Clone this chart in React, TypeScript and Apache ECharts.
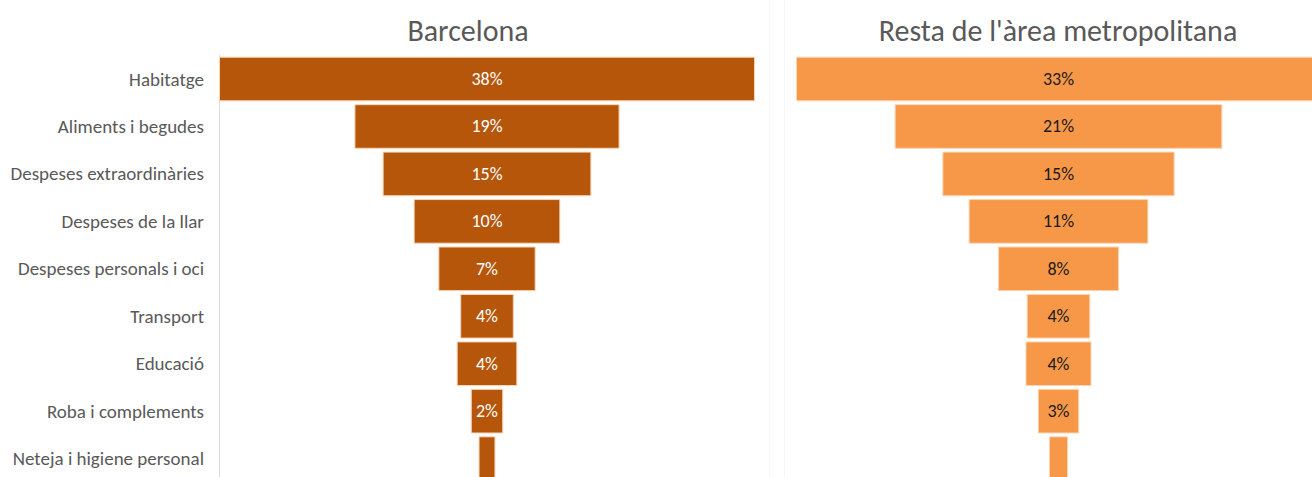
import React, { useEffect, useRef } from "react";
import * as echarts from "echarts";

const categories = [
  "Habitatge",
  "Aliments i begudes",
  "Despeses extraordinàries",
  "Despeses de la llar",
  "Despeses personals i oci",
  "Transport",
  "Educació",
  "Roba i complements",
  "Neteja i higiene personal",
];
const barcelonaValues = [38, 18.8, 14.8, 10.4, 6.9, 3.8, 4.3, 2.3, 1.2];
const restaValues = [33, 20.6, 14.6, 11.3, 7.6, 4.0, 4.15, 2.6, 1.2];
const titles = ["Barcelona", "Resta de l'àrea metropolitana"];

const FONT = "Carlito, Calibri, Lato, 'Noto Sans', sans-serif";

export default function App() {
  const ref = useRef<HTMLDivElement>(null);
  useEffect(() => {
    if (!ref.current) return;
    const chart = echarts.init(ref.current, null, { renderer: "svg" });
    const maxL = Math.max(...barcelonaValues);
    const maxR = Math.max(...restaValues);
    const rowH = 47.45;
    const gridTop = 55.3;
    const gridH = rowH * categories.length;
    const fmt = (p: any) => (p.value >= 1.5 ? Math.round(p.value) + "%" : "");
    const mkSeries = (vals: number[], max: number, idx: number, color: string, labelColor: string) => [
      {
        type: "bar",
        xAxisIndex: idx,
        yAxisIndex: idx,
        stack: "s" + idx,
        data: vals.map((v) => (max - v) / 2),
        itemStyle: { color: "transparent" },
        barCategoryGap: "6%",
        silent: true,
      },
      {
        type: "bar",
        xAxisIndex: idx,
        yAxisIndex: idx,
        stack: "s" + idx,
        data: vals,
        barCategoryGap: "6%",
        itemStyle: { color, borderColor: "#FBD5B5", borderWidth: 1 },
        label: {
          show: true,
          position: "inside",
          formatter: fmt,
          color: labelColor,
          fontFamily: FONT,
          fontSize: 18,
        },
      },
    ];
    chart.setOption({
      animation: false,
      backgroundColor: "#ffffff",
      title: [
        {
          text: titles[0],
          left: 463,
          top: 10,
          textAlign: "center",
          textStyle: { fontFamily: FONT, fontSize: 30, fontWeight: "normal", color: "#595959" },
        },
        {
          text: titles[1],
          left: 1053,
          top: 10,
          textAlign: "center",
          textStyle: { fontFamily: FONT, fontSize: 30, fontWeight: "normal", color: "#595959" },
        },
      ],
      grid: [
        { left: 219, top: gridTop, width: 536, height: gridH, containLabel: false, outerBoundsMode: "none" },
        { left: 796, top: gridTop, width: 525, height: gridH, containLabel: false, outerBoundsMode: "none" },
      ],
      xAxis: [
        { type: "value", gridIndex: 0, min: 0, max: maxL, show: false },
        { type: "value", gridIndex: 1, min: 0, max: maxR, show: false },
      ],
      yAxis: [
        {
          type: "category",
          gridIndex: 0,
          data: categories,
          inverse: true,
          axisLine: { show: true, lineStyle: { color: "#D9D9D9", width: 1 } },
          axisTick: { show: false },
          axisLabel: { margin: 15, color: "#595959", fontFamily: FONT, fontSize: 19 },
        },
        {
          type: "category",
          gridIndex: 1,
          data: categories,
          inverse: true,
          axisLine: { show: false },
          axisTick: { show: false },
          axisLabel: { show: false },
        },
      ],
      graphic: [
        { type: "line", shape: { x1: 769.5, y1: 0, x2: 769.5, y2: 477 }, style: { stroke: "#F6F6F6", lineWidth: 1 } },
        { type: "line", shape: { x1: 784.5, y1: 0, x2: 784.5, y2: 477 }, style: { stroke: "#F6F6F6", lineWidth: 1 } },
      ],
      series: [
        ...mkSeries(barcelonaValues, maxL, 0, "#B5560A", "#FFFFFF"),
        ...mkSeries(restaValues, maxR, 1, "#F79848", "#1A1A1A"),
      ],
    });
    return () => chart.dispose();
  }, []);
  return (
    <div
      ref={ref}
      style={{ position: "absolute", left: 0, top: 0, width: 1312, height: 477 }}
    />
  );
}
